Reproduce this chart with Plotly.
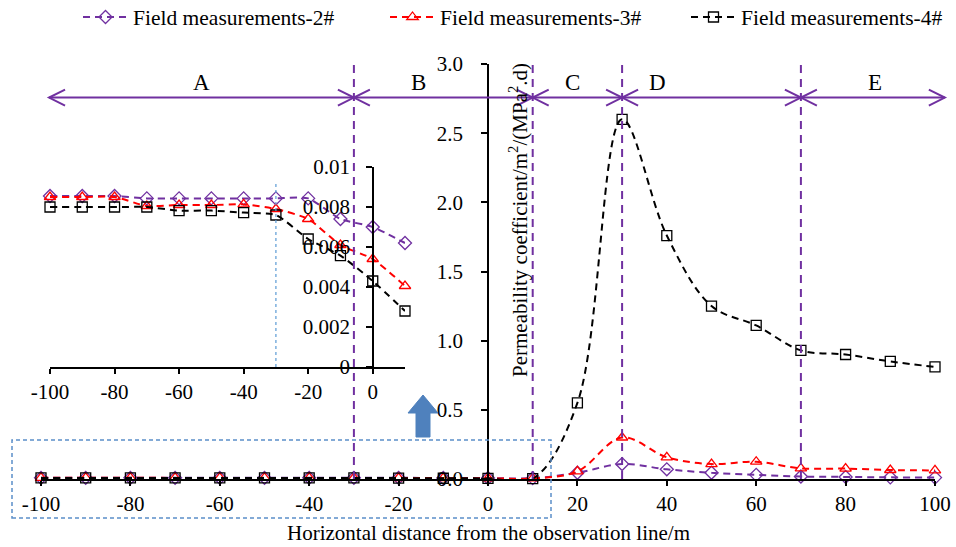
import plotly.graph_objects as go

# ---------------- data ----------------
x_vals = [-100, -90, -80, -70, -60, -50, -40, -30, -20, -10, 0, 10,
          20, 30, 40, 50, 60, 70, 80, 90, 100]
k2 = [0.00855, 0.00855, 0.00855, 0.00843, 0.00843, 0.00843, 0.00843, 0.00843, 0.00843, 0.0074, 0.0070, 0.0062,
      0.045, 0.108, 0.07, 0.045, 0.03, 0.018, 0.015, 0.012, 0.01]
k3 = [0.0085, 0.0085, 0.0085, 0.00805, 0.0081, 0.0081, 0.00813, 0.0079, 0.0074, 0.0061, 0.0054, 0.00405,
      0.055, 0.30, 0.157, 0.108, 0.125, 0.077, 0.075, 0.065, 0.062]
k4 = [0.0080, 0.0080, 0.0080, 0.0080, 0.00782, 0.00782, 0.00772, 0.0076, 0.0064, 0.00557, 0.0043, 0.0028,
      0.55, 2.60, 1.76, 1.25, 1.11, 0.93, 0.90, 0.85, 0.81]
names = ["Field measurements-2#", "Field measurements-3#", "Field measurements-4#"]
colors = ["#7030A0", "#FF0000", "#000000"]
symbols = ["diamond-open", "triangle-up-open", "square-open"]
inset_n = 12  # points from -100 to 10
zone_bounds = [-98.2, -30, 10, 30, 70, 102.2]
zone_labels = ["A", "B", "C", "D", "E"]
zone_label_x = [-64, -15.5, 18.8, 38, 86.6]
main_xticks = list(range(-100, 101, 20))
main_xticktext = [str(v) for v in main_xticks]
main_yticks = [0, 0.5, 1.0, 1.5, 2.0, 2.5, 3.0]
inset_xticks = list(range(-100, 1, 20))
inset_xticktext = [str(v) for v in inset_xticks]
inset_yticks = [0, 0.002, 0.004, 0.006, 0.008, 0.01]
inset_yticktext = ["0", "0.002", "0.004", "0.006", "0.008", "0.01"]

FONT = "Liberation Serif"
FS = 21
PURPLE = "#7030A0"
W, H = 956, 547
ML, MR, MT, MB = 41, 21, 64, 68
PW, PH = W - ML - MR, H - MT - MB
XR = (-100, 100)
YR = (0, 3)


def fx(px):  # pixel -> paper x
    return (px - ML) / PW


def fy(py):  # pixel -> paper y
    return (H - MB - py) / PH


def dx(x):  # main data x -> paper
    return (x - XR[0]) / (XR[1] - XR[0])


def dy(y):
    return (y - YR[0]) / (YR[1] - YR[0])


fig = go.Figure()

series = [k2, k3, k4]
legend_ids = ["legend", "legend2", "legend3"]
for s, nm, c, sym, lg in zip(series, names, colors, symbols, legend_ids):
    fig.add_trace(go.Scatter(
        x=x_vals, y=s, name=nm, mode="lines+markers", legend=lg,
        line=dict(color=c, width=2, dash="7px,5px", shape="spline", smoothing=1.0),
        marker=dict(symbol=sym, size=10, color=c, line=dict(color=c, width=1.3)),
        cliponaxis=False, xaxis="x", yaxis="y"))

for s, nm, c, sym in zip(series, names, colors, symbols):
    fig.add_trace(go.Scatter(
        x=x_vals[:inset_n], y=s[:inset_n], name=nm, mode="lines+markers", showlegend=False,
        line=dict(color=c, width=2, dash="7px,5px", shape="spline", smoothing=0.6),
        marker=dict(symbol=sym, size=10, color=c, line=dict(color=c, width=1.3)),
        cliponaxis=False, xaxis="x2", yaxis="y2"))

shapes = []
for xb in zone_bounds[1:-1]:
    shapes.append(dict(type="line", xref="x", yref="y", x0=xb, x1=xb, y0=0, y1=3.0,
                       line=dict(color=PURPLE, width=2, dash="8px,6px")))
ay = dy(2.757)
shapes.append(dict(type="line", xref="paper", yref="paper",
                   x0=dx(zone_bounds[0]), x1=dx(zone_bounds[-1]), y0=ay, y1=ay,
                   line=dict(color=PURPLE, width=2)))
L = 16 / PW
h = 8 / PH
for a, b in zip(zone_bounds[:-1], zone_bounds[1:]):
    pa, pb = dx(a), dx(b)
    shapes.append(dict(type="path", xref="paper", yref="paper",
                       path=f"M {pa+L},{ay+h} L {pa},{ay} L {pa+L},{ay-h}",
                       line=dict(color=PURPLE, width=2)))
    shapes.append(dict(type="path", xref="paper", yref="paper",
                       path=f"M {pb-L},{ay+h} L {pb},{ay} L {pb-L},{ay-h}",
                       line=dict(color=PURPLE, width=2)))
shapes.append(dict(type="line", xref="x2", yref="y2", x0=-30, x1=-30, y0=0, y1=0.0093,
                   line=dict(color="#5B9BD5", width=1.2, dash="dot")))
shapes.append(dict(type="rect", xref="paper", yref="paper",
                   x0=fx(12), x1=fx(551), y0=fy(518), y1=fy(440),
                   line=dict(color="#5B8FC9", width=1.5, dash="4px,3px")))
cx = 423
pts = [(cx, 395), (cx + 15, 413), (cx + 7, 413), (cx + 7, 437), (cx - 7, 437), (cx - 7, 413), (cx - 15, 413)]
path = "M " + " L ".join(f"{fx(p[0])},{fy(p[1])}" for p in pts) + " Z"
shapes.append(dict(type="path", xref="paper", yref="paper", path=path,
                   fillcolor="#4F81BD", line=dict(color="#4F81BD", width=1)))

annotations = []
for lab, lx in zip(zone_labels, zone_label_x):
    annotations.append(dict(text=lab, xref="paper", yref="paper", x=dx(lx), y=fy(82),
                            xanchor="center", yanchor="middle",
                            showarrow=False, font=dict(family=FONT, size=23, color="black")))
annotations.append(dict(text="Permeability coefficient/m<sup>2</sup>/(MPa<sup>2</sup>.d)",
                        xref="paper", yref="paper", x=fx(519), y=fy(220), textangle=-90,
                        xanchor="center", yanchor="middle",
                        showarrow=False, font=dict(family=FONT, size=FS, color="black")))
annotations.append(dict(text="Horizontal distance from the observation line/m",
                        xref="paper", yref="paper", x=fx(488), y=fy(533),
                        xanchor="center", yanchor="middle",
                        showarrow=False, font=dict(family=FONT, size=FS, color="black")))

axis_common = dict(showgrid=False, zeroline=False, showline=True, linecolor="black",
                   linewidth=1.5, ticks="outside", tickcolor="black", tickwidth=1.5,
                   tickfont=dict(family=FONT, size=FS, color="black"))

legend_common = dict(orientation="h", xanchor="left", yanchor="middle", y=fy(17),
                     font=dict(family=FONT, size=21.5, color="black"),
                     bgcolor="rgba(0,0,0,0)", itemwidth=45)

fig.update_layout(
    width=W, height=H, autosize=False,
    margin=dict(l=ML, r=MR, t=MT, b=MB, autoexpand=False),
    paper_bgcolor="white", plot_bgcolor="rgba(0,0,0,0)",
    font=dict(family=FONT, size=FS, color="black"),
    xaxis=dict(domain=[0, 1], range=list(XR), anchor="y", tickvals=main_xticks,
               ticktext=main_xticktext, ticklen=5, **axis_common),
    yaxis=dict(domain=[0, 1], range=list(YR), anchor="free", position=0.5,
               tickvals=main_yticks, ticktext=[f"{v:.1f}" for v in main_yticks],
               ticklen=6, ticklabelstandoff=14, **axis_common),
    xaxis2=dict(domain=[fx(50), fx(405)], range=[-100, 10], anchor="y2",
                tickvals=inset_xticks, ticktext=inset_xticktext, ticklen=5, **axis_common),
    yaxis2=dict(domain=[fy(367), fy(167)], range=[0, 0.01], anchor="free",
                position=fx(373), tickvals=inset_yticks, ticktext=inset_yticktext,
                ticklen=6, ticklabelstandoff=12, **axis_common),
    legend=dict(x=fx(78), **legend_common),
    legend2=dict(x=fx(385), **legend_common),
    legend3=dict(x=fx(686), **legend_common),
    shapes=shapes, annotations=annotations, showlegend=True,
)

fig.write_html("out.html")
